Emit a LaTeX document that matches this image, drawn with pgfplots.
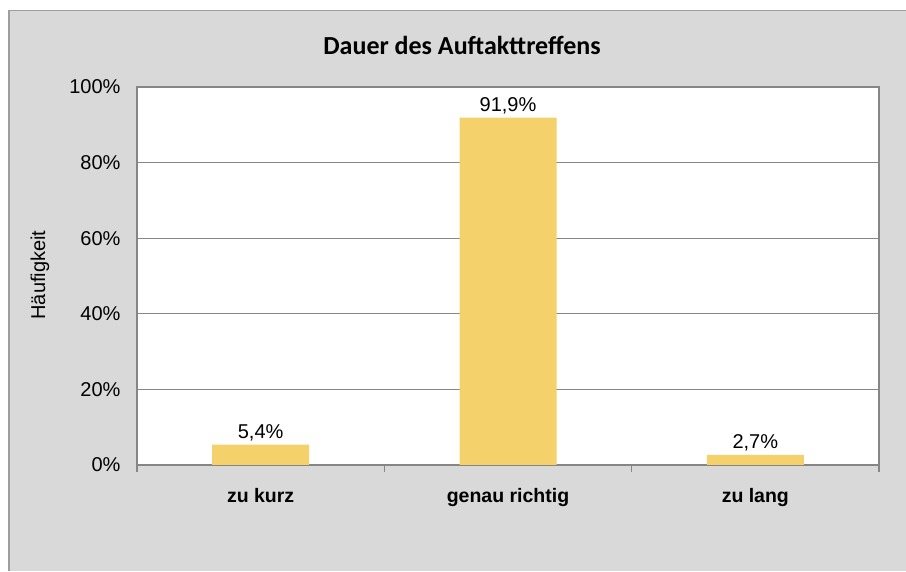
\documentclass[border=0pt]{standalone}
\usepackage{fontspec}
\setmainfont{Liberation Sans}
\newfontfamily\titlefont{Carlito}
\usepackage{pgfplots}
\pgfplotsset{compat=1.18}
\definecolor{bg}{HTML}{D9D9D9}
\definecolor{barc}{HTML}{F5D16B}
\definecolor{framec}{HTML}{868686}
\begin{document}
\begin{tikzpicture}
\useasboundingbox (0pt,0pt) rectangle (906pt,571pt);
\fill[bg] (8pt,0pt) rectangle (906pt,561pt);
\draw[framec!80, line width=1.5pt] (8.75pt,0pt) -- (8.75pt,560.25pt) -- (906pt,560.25pt);
\node[font=\titlefont\bfseries\fontsize{26}{30}\selectfont] at (462pt,526pt) {Dauer des Auftakttreffens};
\node[rotate=90, font=\fontsize{20}{24}\selectfont] at (40pt,296pt) {Häufigkeit};
\begin{axis}[
  at={(137pt,106pt)}, anchor=south west,
  scale only axis, width=742pt, height=378pt,
  xmin=-0.5, xmax=2.5, ymin=0, ymax=100,
  axis background/.style={fill=white},
  ytick={0,20,40,60,80,100},
  yticklabel={\pgfmathprintnumber{\tick}\%},
  yticklabel style={font=\fontsize{20}{24}\selectfont, xshift=-13pt},
  /pgf/number format/assume math mode=true,
  xtick={0,1,2},
  xticklabels={zu kurz, genau richtig, zu lang},
  xticklabel style={font=\bfseries\fontsize{19.5}{23}\selectfont, yshift=-20pt},
  minor xtick={-0.5,0.5,1.5,2.5},
  tick pos=left,
  major tick length=0pt, minor tick length=7pt,
  tick align=outside,
  minor tick style={framec, line width=1.5pt},
  ymajorgrids, grid style={framec, line width=1pt},
  axis line style={framec, line width=1.8pt},
  ybar, bar width=97pt,
  nodes near coords={\pgfmathprintnumber[fixed,fixed zerofill,precision=1,use comma]{\pgfplotspointmeta}\%},
  every node near coord/.append style={font=\fontsize{20}{24}\selectfont, text=black, yshift=0pt},
]
\addplot[fill=barc, draw=none] coordinates {(0,5.4) (1,91.9) (2,2.7)};
\end{axis}
\end{tikzpicture}
\end{document}
